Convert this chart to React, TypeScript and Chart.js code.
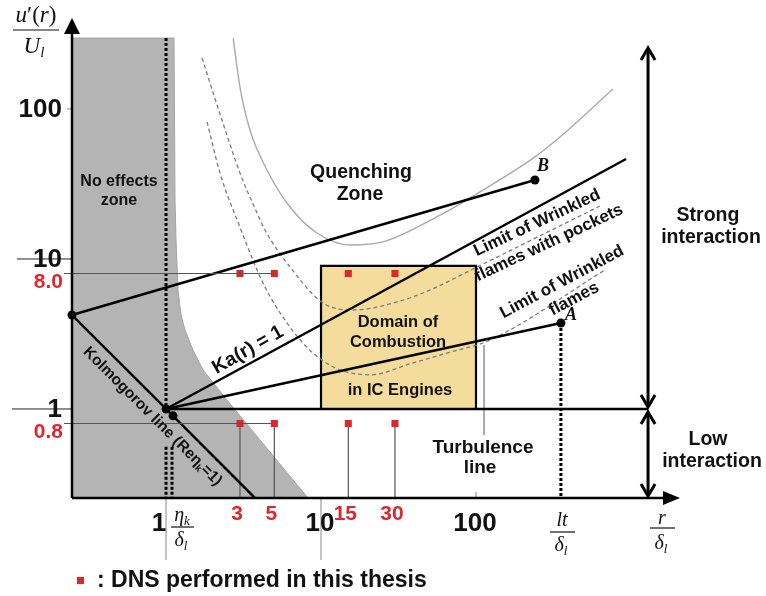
import React, { useEffect, useRef } from "react";
import { Chart, registerables } from "chart.js";

Chart.register(...registerables);

// ---- axis ranges (log scales) ----
const X_MIN = 0.2474;
const X_MAX = 2010;
const Y_MIN = 0.255;
const Y_MAX = 404;

// ---- tick labels ----
const xTickValues = [1, 10, 100];
const xTickLabels = ["1", "10", "100"];
const yTickValues = [1, 10, 100];
const yTickLabels = ["1", "10", "100"];

// ---- DNS cases ----
const dnsR = [3, 5, 15, 30];
const dnsRLabels = ["3", "5", "15", "30"];
const dnsU = [0.8, 8.0];
const dnsULabels = ["0.8", "8.0"];

// ---- "No effects zone" boundary ----
const noEffR = [0.2474, 1.126, 1.143, 1.16, 1.195, 1.25, 1.326, 1.493, 1.733, 2.47, 8.24];
const noEffU = [297, 297, 24.7, 13.4, 6.21, 4.23, 3.36, 2.47, 1.82, 1.148, 0.255];

// ---- quenching zone curve (solid gray) ----
const quenchR = [2.71, 3.0, 3.48, 4.48, 6.31, 9.42, 15.4, 25.1, 58.6, 106, 240, 348, 765];
const quenchU = [297, 140, 72.4, 39.2, 22.2, 14.9, 12.4, 13.0, 19.6, 28.0, 47.9, 65, 136];

// ---- limit of wrinkled flames with pockets (dashed) ----
const pocketsR = [1.707, 2.33, 3.0, 3.86, 4.35, 6.31, 10.3, 16.1, 30.9, 50.5, 101.5, 650];
const pocketsU = [218.8, 80.6, 37.4, 20.3, 15.6, 8.84, 5.09, 4.57, 5.17, 6.21, 8.84, 22.9];

// ---- limit of wrinkled flames (dashed) ----
const wrinkledR = [1.84, 2.23, 3.0, 4.22, 6.04, 8.88, 13.3, 20.7, 39.2, 65, 123, 679];
const wrinkledU = [81.9, 37.4, 16.3, 6.92, 3.74, 2.36, 1.82, 1.69, 2.03, 2.36, 2.88, 8.45];

// ---- straight lines ----
const kolmoR = [0.2474, 1.11, 3.75];
const kolmoU = [4.23, 0.9, 0.255];
const lineBR = [0.2474, 240];
const lineBU = [4.23, 33.6];
const lineAR = [1, 353];
const lineAU = [1, 3.74];
const kaR = [1, 929];
const kaU = [1, 46.4];
const unityR = [1, 1288];
const unityU = [1, 1];

// ---- dotted verticals ----
const etaUpperR = [1, 1];
const etaUpperU = [297, 1];
const etaLowerR = [1, 1];
const etaLowerU = [0.56, 0.255];
const etaKLineR = [1.093, 1.093];
const etaKLineU = [0.56, 0.255];
const ltLineR = [353, 353];
const ltLineU = [3.74, 0.255];

// ---- IC-engine domain box ----
const boxR = [10, 10, 100, 100];
const boxU = [1, 9, 9, 1];

// ---- turbulence line leader ----
const turbR = [112.7, 112.7];
const turbU = [2.67, 0.671];

// ---- marked points (Kolmogorov start, origin, Kolmogorov point, A, B) ----
const dotsR = [0.2474, 1, 1.11, 353, 240];
const dotsU = [4.23, 1, 0.9, 3.74, 33.6];

// ---- interaction arrows ----
const interactionR = 1288;
const strongTopU = 255;

const SANS = "'Liberation Sans', Arial, Helvetica, sans-serif";
const SERIF = "'Liberation Serif', 'DejaVu Serif', serif";
const RED = "#e0262d";

const pts = (r: number[], u: number[]) => r.map((x, i) => ({ x, y: u[i] }));

type Run = [string, string, number?];
function runs(ctx: CanvasRenderingContext2D, items: Run[], x: number, y: number, align: "left" | "center" | "right" = "center") {
  let w = 0;
  for (const [t, f] of items) { ctx.font = f; w += ctx.measureText(t).width; }
  let cx = align === "center" ? x - w / 2 : align === "right" ? x - w : x;
  ctx.textAlign = "left";
  ctx.textBaseline = "alphabetic";
  for (const [t, f, dy] of items) {
    ctx.font = f;
    ctx.fillText(t, cx, y + (dy || 0));
    cx += ctx.measureText(t).width;
  }
}

function txt(ctx: CanvasRenderingContext2D, t: string, x: number, y: number, font: string, color = "#111", align: CanvasTextAlign = "center", deg = 0) {
  ctx.save();
  ctx.translate(x, y);
  if (deg) ctx.rotate((deg * Math.PI) / 180);
  ctx.font = font;
  ctx.fillStyle = color;
  ctx.textAlign = align;
  ctx.textBaseline = "middle";
  ctx.fillText(t, 0, 0);
  ctx.restore();
}

function seg(ctx: CanvasRenderingContext2D, x1: number, y1: number, x2: number, y2: number) {
  ctx.beginPath();
  ctx.moveTo(x1, y1);
  ctx.lineTo(x2, y2);
  ctx.stroke();
}

const overlay = {
  id: "overlay",
  afterDatasetsDraw(chart: any) {
    const ctx: CanvasRenderingContext2D = chart.ctx;
    const xs = chart.scales.x;
    const ys = chart.scales.y;
    const X = (v: number) => xs.getPixelForValue(v);
    const Y = (v: number) => ys.getPixelForValue(v);
    const { left, right, top, bottom } = chart.chartArea;
    ctx.save();

    // guide lines for DNS levels
    ctx.strokeStyle = "#555";
    ctx.lineWidth = 1;
    dnsU.forEach((u) => seg(ctx, left - 8, Y(u), X(dnsR[1]) - 3, Y(u)));

    // tick extension lines
    ctx.strokeStyle = "#222";
    seg(ctx, 12, Y(yTickValues[0]), left, Y(yTickValues[0]));
    seg(ctx, 17, Y(yTickValues[1]), left, Y(yTickValues[1]));
    ctx.strokeStyle = "#888";
    seg(ctx, left - 5, Y(yTickValues[2]), left, Y(yTickValues[2]));
    seg(ctx, X(xTickValues[0]), bottom, X(xTickValues[0]), 560);
    seg(ctx, X(xTickValues[1]), bottom, X(xTickValues[1]), 560);
    seg(ctx, X(xTickValues[2]), bottom - 6, X(xTickValues[2]), bottom);

    // axes
    ctx.strokeStyle = "#000";
    ctx.fillStyle = "#000";
    ctx.lineWidth = 2.5;
    seg(ctx, left, bottom, left, top + 12);
    seg(ctx, left, bottom, right - 12, bottom);
    ctx.beginPath();
    ctx.moveTo(left, top);
    ctx.lineTo(left - 8, top + 16);
    ctx.lineTo(left + 8, top + 16);
    ctx.closePath();
    ctx.fill();
    ctx.beginPath();
    ctx.moveTo(right + 2, bottom);
    ctx.lineTo(right - 15, bottom - 7);
    ctx.lineTo(right - 15, bottom + 7);
    ctx.closePath();
    ctx.fill();

    // interaction double arrows
    const ax = X(interactionR);
    const vHead = (x: number, y: number, dir: number) => {
      ctx.beginPath();
      ctx.moveTo(x - 7, y - dir * 12);
      ctx.lineTo(x, y);
      ctx.lineTo(x + 7, y - dir * 12);
      ctx.stroke();
    };
    ctx.lineWidth = 3;
    const yUp = Y(strongTopU);
    const y1 = Y(1);
    seg(ctx, ax, yUp, ax, y1 - 2);
    vHead(ax, yUp, -1);
    vHead(ax, y1 - 2, 1);
    seg(ctx, ax, y1 + 3, ax, bottom - 2);
    vHead(ax, y1 + 3, -1);
    vHead(ax, bottom - 2, 1);

    // y tick labels
    const big = `bold 26px ${SANS}`;
    yTickValues.forEach((v, i) => txt(ctx, yTickLabels[i], 62, Y(v) + 1, big, "#111", "right"));
    const red = `bold 21px ${SANS}`;
    dnsU.forEach((v, i) => txt(ctx, dnsULabels[i], 63, Y(v) + 9, red, RED, "right"));

    // x tick labels
    xTickValues.forEach((v, i) => txt(ctx, xTickLabels[i], X(v) + (i === 0 ? -7 : -1), 524, big, "#111", "center"));
    dnsR.forEach((v, i) => txt(ctx, dnsRLabels[i], X(v) - 3, 514, red, RED, "center"));

    // axis titles (fractions)
    ctx.fillStyle = "#111";
    const it = (s: number) => `italic ${s}px ${SERIF}`;
    const up = (s: number) => `${s}px ${SERIF}`;
    runs(ctx, [["u", it(23)], ["′", up(23)], ["(", up(23)], ["r", it(23)], [")", up(23)]], 36, 22);
    ctx.strokeStyle = "#111";
    ctx.lineWidth = 1.2;
    seg(ctx, 13, 30, 59, 30);
    runs(ctx, [["U", it(23)], ["l", it(15), 4]], 34, 53);

    runs(ctx, [["η", it(20)], ["k", it(13), 4]], 182, 521);
    seg(ctx, 171, 527, 194, 527);
    runs(ctx, [["δ", it(20)], ["l", it(13), 4]], 181, 546);

    runs(ctx, [["lt", it(20)]], 562, 526);
    seg(ctx, 550, 532, 575, 532);
    runs(ctx, [["δ", it(20)], ["l", it(13), 4]], 561, 551);

    runs(ctx, [["r", it(20)]], 662, 524);
    seg(ctx, 650, 528, 675, 528);
    runs(ctx, [["δ", it(20)], ["l", it(13), 4]], 661, 549);

    // region / annotation texts
    const b = (s: number) => `bold ${s}px ${SANS}`;
    txt(ctx, "No effects", 119, 182, b(16));
    txt(ctx, "zone", 119, 201, b(16));
    txt(ctx, "Quenching", 361, 173, b(19.5));
    txt(ctx, "Zone", 360, 195, b(19.5));
    txt(ctx, "Strong", 708, 216, b(19.5));
    txt(ctx, "interaction", 711, 238, b(19.5));
    txt(ctx, "Low", 708, 440, b(19.5));
    txt(ctx, "interaction", 712, 462, b(19.5));
    txt(ctx, "Turbulence", 483, 448, b(19));
    txt(ctx, "line", 480, 468, b(19));
    txt(ctx, "Domain of", 398, 322, b(16.5));
    txt(ctx, "Combustion", 398, 342, b(16.5));
    txt(ctx, "in IC Engines", 400, 390, b(16.5));
    txt(ctx, "Ka(r) = 1", 248, 350, b(19.5), "#111", "center", -29.7);
    txt(ctx, "Limit of Wrinkled", 537, 223, b(17), "#111", "center", -25);
    txt(ctx, "flames with pockets", 549, 243, b(17), "#111", "center", -25);
    txt(ctx, "Limit of Wrinkled", 562, 282, b(17), "#111", "center", -28);
    txt(ctx, "flames", 574, 299, b(17), "#111", "center", -28);

    // Kolmogorov label (rotated, with subscript)
    ctx.save();
    ctx.translate(153, 416);
    ctx.rotate(Math.PI / 4);
    ctx.fillStyle = "#111";
    runs(ctx, [["Kolmogorov line (Reη", b(15.5)], ["k", b(10), 3], ["=1)", b(15.5)]], 0, 5);
    ctx.restore();

    // A and B
    txt(ctx, "A", 571, 315, `bold italic 18px ${SERIF}`);
    txt(ctx, "B", 543, 166, `bold italic 18px ${SERIF}`);

    // legend
    ctx.fillStyle = RED;
    ctx.fillRect(77, 577, 7, 7);
    txt(ctx, ": DNS performed in this thesis", 97, 581, b(23), "#111", "left");

    ctx.restore();
  },
};

export default function App() {
  const ref = useRef<HTMLCanvasElement | null>(null);

  useEffect(() => {
    if (!ref.current) return;
    const line = (r: number[], u: number[], extra: any = {}) => ({
      data: pts(r, u),
      borderColor: "#000",
      borderWidth: 2.5,
      pointRadius: 0,
      tension: 0,
      fill: false,
      clip: false,
      order: 50,
      ...extra,
    });
    const dotted = { borderDash: [3, 2], borderWidth: 3, order: 45 };
    const smooth = { cubicInterpolationMode: "monotone", tension: 0.4, order: 80 };
    const dnsPts: { x: number; y: number }[] = [];
    dnsU.forEach((u) => dnsR.forEach((r) => dnsPts.push({ x: r, y: u })));

    const chart = new Chart(ref.current, {
      type: "line",
      data: {
        datasets: [
          line(noEffR, noEffU, { fill: "start", backgroundColor: "#b4b4b4", borderColor: "#a4a4a4", borderWidth: 1, order: 100 }),
          line(boxR, boxU, { fill: { value: 1 }, backgroundColor: "#f4dc9c", borderWidth: 2.2, order: 90 }),
          line(quenchR, quenchU, { ...smooth, borderColor: "#aaaaaa", borderWidth: 1.4 }),
          line(pocketsR, pocketsU, { ...smooth, borderColor: "#7c7c7c", borderWidth: 1.3, borderDash: [4, 3] }),
          line(wrinkledR, wrinkledU, { ...smooth, borderColor: "#7c7c7c", borderWidth: 1.3, borderDash: [4, 3] }),
          line(turbR, turbU, { borderColor: "#aaaaaa", borderWidth: 2, order: 70 }),
          ...dnsR.map((r) => line([r, r], [dnsU[0], Y_MIN], { borderColor: "#555", borderWidth: 1.2, order: 60 })),
          line(kolmoR, kolmoU),
          line(lineBR, lineBU),
          line(lineAR, lineAU),
          line(kaR, kaU),
          line(unityR, unityU),
          line(etaUpperR, etaUpperU, dotted),
          line(etaLowerR, etaLowerU, dotted),
          line(etaKLineR, etaKLineU, dotted),
          line(ltLineR, ltLineU, dotted),
          {
            data: pts(dotsR, dotsU),
            showLine: false,
            pointRadius: 4.5,
            pointBackgroundColor: "#000",
            pointBorderWidth: 0,
            clip: false,
            order: 10,
          },
          {
            data: dnsPts,
            showLine: false,
            pointStyle: "rect",
            pointRadius: 5,
            pointBackgroundColor: RED,
            pointBorderWidth: 0,
            clip: false,
            order: 5,
          },
        ] as any,
      },
      options: {
        responsive: false,
        animation: false,
        devicePixelRatio: 1,
        layout: { padding: { left: 72, top: 18, right: 88, bottom: 98 } },
        scales: {
          x: { type: "logarithmic", min: X_MIN, max: X_MAX, display: false, bounds: "data" },
          y: { type: "logarithmic", min: Y_MIN, max: Y_MAX, display: false, bounds: "data" },
        },
        plugins: { legend: { display: false }, tooltip: { enabled: false } },
        events: [],
      } as any,
      plugins: [overlay],
    });
    return () => chart.destroy();
  }, []);

  return (
    <div style={{ position: "absolute", left: 0, top: 0, width: 766, height: 596, background: "#fff" }}>
      <canvas ref={ref} width={766} height={596} style={{ display: "block", width: 766, height: 596 }} />
    </div>
  );
}
